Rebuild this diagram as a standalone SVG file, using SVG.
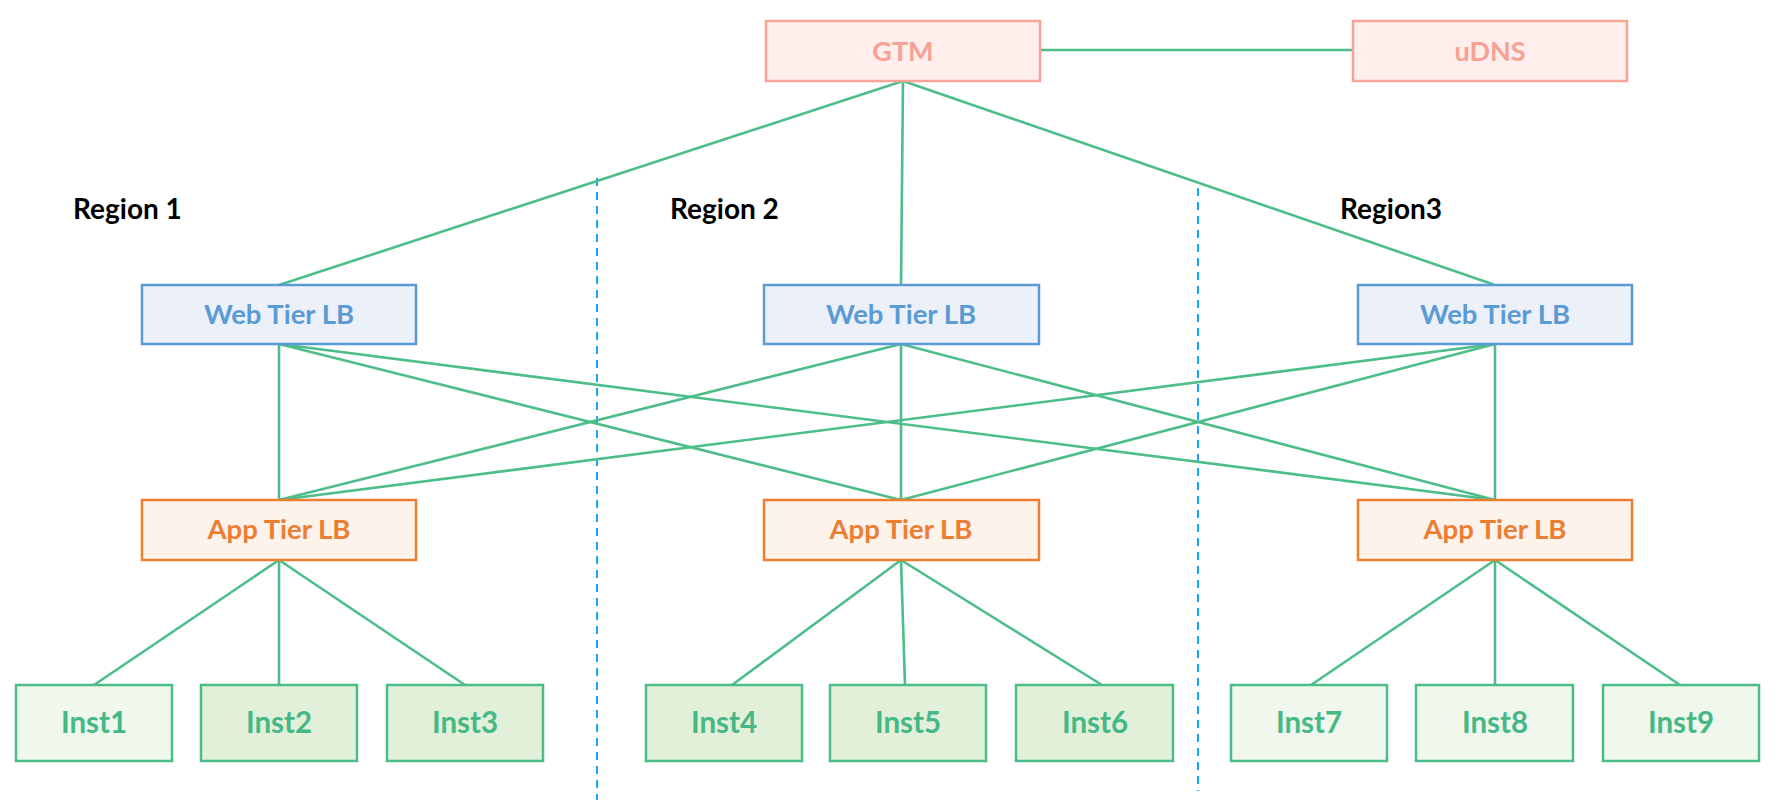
<svg xmlns="http://www.w3.org/2000/svg" width="1792" height="802" viewBox="0 0 1792 802">
<style>
text{font-family:Lato,"Liberation Sans",sans-serif;font-weight:bold;text-anchor:middle;font-size:27.5px}
.gtm rect{fill:#FFEEEB;stroke:#F8A396;stroke-width:2.5}
.gtm text{fill:#F7A195;font-size:27px}
.web rect{fill:#ECF0F9;stroke:#5B9BD5;stroke-width:2.5}
.web text{fill:#5B9BD5}
.app rect{fill:#FDF3EB;stroke:#ED7D31;stroke-width:2.5}
.app text{fill:#ED7D31}
.inst rect{stroke:#4BBD88;stroke-width:2.5}
.inst text{fill:#45B886;font-size:29.5px}
.l1 rect{fill:#F0F7EC}
.l2 rect{fill:#E2F0D9}
.region{fill:#000;text-anchor:start;font-size:28px}
#connectors line{stroke:#4DBE8A;stroke-width:2.6}
.div{stroke:#1AA3FF;stroke-width:2;stroke-dasharray:8 6;fill:none}
</style>
<rect width="1792" height="802" fill="#fff"/>
<g id="dividers">
<line class="div" x1="597" y1="178" x2="597" y2="800"/>
<line class="div" x1="1198" y1="188" x2="1198" y2="791"/>
</g>
<g id="labels">
<text class="region" x="73" y="219">Region 1</text>
<text class="region" x="670" y="219">Region 2</text>
<text class="region" x="1340" y="219">Region3</text>
</g>
<g id="connectors">
<line x1="915" y1="50" x2="1353" y2="50"/>
<line x1="903" y1="81" x2="279" y2="285"/>
<line x1="903" y1="81" x2="901" y2="285"/>
<line x1="903" y1="81" x2="1495" y2="285"/>
<line x1="279" y1="344" x2="279" y2="500"/>
<line x1="279" y1="344" x2="901" y2="500"/>
<line x1="279" y1="344" x2="1495" y2="500"/>
<line x1="901" y1="344" x2="279" y2="500"/>
<line x1="901" y1="344" x2="901" y2="500"/>
<line x1="901" y1="344" x2="1495" y2="500"/>
<line x1="1495" y1="344" x2="279" y2="500"/>
<line x1="1495" y1="344" x2="901" y2="500"/>
<line x1="1495" y1="344" x2="1495" y2="500"/>
<line x1="279" y1="560" x2="94" y2="685"/>
<line x1="279" y1="560" x2="279" y2="685"/>
<line x1="279" y1="560" x2="465" y2="685"/>
<line x1="901" y1="560" x2="732" y2="685"/>
<line x1="901" y1="560" x2="905" y2="685"/>
<line x1="901" y1="560" x2="1102" y2="685"/>
<line x1="1495" y1="560" x2="1311" y2="685"/>
<line x1="1495" y1="560" x2="1495" y2="685"/>
<line x1="1495" y1="560" x2="1680" y2="685"/>
</g>
<g id="gtm" class="gtm"><rect x="766" y="21" width="274" height="60"/><text x="903" y="61">GTM</text></g>
<g id="udns" class="gtm"><rect x="1353" y="21" width="274" height="60"/><text x="1490" y="61">uDNS</text></g>
<g id="web1" class="web"><rect x="142" y="285" width="274" height="59"/><text x="279" y="324">Web Tier LB</text></g>
<g id="web2" class="web"><rect x="764" y="285" width="275" height="59"/><text x="901" y="324">Web Tier LB</text></g>
<g id="web3" class="web"><rect x="1358" y="285" width="274" height="59"/><text x="1495" y="324">Web Tier LB</text></g>
<g id="app1" class="app"><rect x="142" y="500" width="274" height="60"/><text x="279" y="539">App Tier LB</text></g>
<g id="app2" class="app"><rect x="764" y="500" width="275" height="60"/><text x="901" y="539">App Tier LB</text></g>
<g id="app3" class="app"><rect x="1358" y="500" width="274" height="60"/><text x="1495" y="539">App Tier LB</text></g>
<g id="inst1" class="inst l1"><rect x="16" y="685" width="156" height="76"/><text x="94" y="733">Inst1</text></g>
<g id="inst2" class="inst l2"><rect x="201" y="685" width="156" height="76"/><text x="279" y="733">Inst2</text></g>
<g id="inst3" class="inst l2"><rect x="387" y="685" width="156" height="76"/><text x="465" y="733">Inst3</text></g>
<g id="inst4" class="inst l2"><rect x="646" y="685" width="156" height="76"/><text x="724" y="733">Inst4</text></g>
<g id="inst5" class="inst l2"><rect x="830" y="685" width="156" height="76"/><text x="908" y="733">Inst5</text></g>
<g id="inst6" class="inst l2"><rect x="1016" y="685" width="157" height="76"/><text x="1095" y="733">Inst6</text></g>
<g id="inst7" class="inst l1"><rect x="1231" y="685" width="156" height="76"/><text x="1309" y="733">Inst7</text></g>
<g id="inst8" class="inst l1"><rect x="1416" y="685" width="157" height="76"/><text x="1495" y="733">Inst8</text></g>
<g id="inst9" class="inst l1"><rect x="1603" y="685" width="156" height="76"/><text x="1681" y="733">Inst9</text></g>
</svg>
